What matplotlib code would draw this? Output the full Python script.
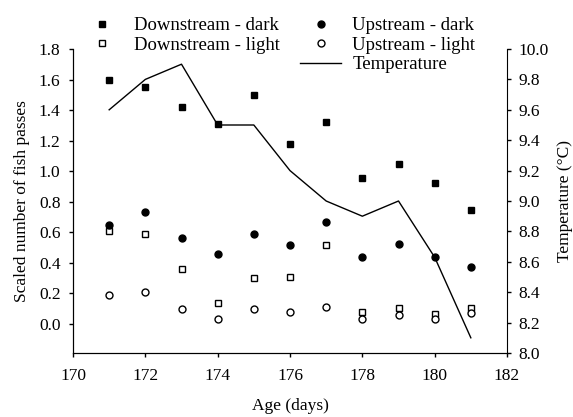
import numpy as np
import matplotlib
matplotlib.use("Agg")
import matplotlib.pyplot as plt

plt.rcParams['font.family'] = ['Liberation Serif', 'DejaVu Serif']
plt.rcParams['font.size'] = 12.5

# data
age = [171, 172, 173, 174, 175, 176, 177, 178, 179, 180, 181]
down_dark = [1.595, 1.55, 1.42, 1.31, 1.50, 1.18, 1.325, 0.955, 1.05, 0.925, 0.745]
down_light = [0.61, 0.59, 0.36, 0.14, 0.30, 0.305, 0.515, 0.08, 0.105, 0.065, 0.105]
up_dark = [0.645, 0.735, 0.565, 0.46, 0.59, 0.52, 0.67, 0.44, 0.525, 0.44, 0.37]
up_light = [0.19, 0.21, 0.095, 0.033, 0.095, 0.077, 0.11, 0.031, 0.057, 0.031, 0.07]
temperature = [9.6, 9.8, 9.9, 9.5, 9.5, 9.2, 9.0, 8.9, 9.0, 8.63, 8.1]

fig = plt.figure(figsize=(5.73, 4.17), dpi=100)
ax = fig.add_axes([73/573, 1-353/417, (507-73)/573, (353-49)/417])
ax2 = ax.twinx()

ms = 5
ax.plot(age, down_dark, 's', color='black', ms=ms, label='Downstream - dark')
ax.plot(age, down_light, 's', mfc='white', mec='black', mew=1, ms=ms, label='Downstream - light')
ax.plot(age, up_dark, 'o', color='black', ms=ms, label='Upstream - dark')
ax.plot(age, up_light, 'o', mfc='white', mec='black', mew=1, ms=ms, label='Upstream - light')
ax2.plot(age, temperature, '-', color='black', lw=1.0, label='Temperature')
ax.set_zorder(ax2.get_zorder() + 1)
ax.patch.set_visible(False)

ax.set_xlim(170, 182)
ax.set_xticks(np.arange(170, 183, 2))
ax.set_ylim(-0.19, 1.8)
ax.set_yticks(np.arange(0, 1.81, 0.2))
ax.set_yticklabels(['%.1f' % v for v in np.arange(0, 1.81, 0.2)])
ax2.set_ylim(8.0, 10.0)
ax2.set_yticks(np.arange(8.0, 10.01, 0.2))
ax2.set_yticklabels(['%.1f' % v for v in np.arange(8.0, 10.01, 0.2)])

for a in (ax, ax2):
    a.spines['top'].set_visible(False)
    a.tick_params(direction='out', length=3, width=1, color='black')
ax.spines['right'].set_visible(False)
ax.tick_params(axis='y', pad=6)
ax.tick_params(axis='x', pad=8)
ax2.tick_params(axis='y', pad=5)

ax.set_xlabel('Age (days)', labelpad=10)
ax.set_ylabel('Scaled number of fish passes', labelpad=6)
ax2.set_ylabel('Temperature (°C)', labelpad=6)

h1, l1 = ax.get_legend_handles_labels()
h2, l2 = ax2.get_legend_handles_labels()
leg_kw = dict(loc='upper left', frameon=False, borderpad=0, borderaxespad=0,
              handlelength=2.2, handletextpad=0.6, labelspacing=0.13, fontsize=13.5)
leg1 = fig.legend(h1[:2], l1[:2], bbox_to_anchor=(81/573, 1-17/417), **leg_kw)
leg2 = fig.legend(h1[2:] + h2, l1[2:] + l2, bbox_to_anchor=(300/573, 1-17/417), **leg_kw)

fig.savefig('out.png', dpi=100)
